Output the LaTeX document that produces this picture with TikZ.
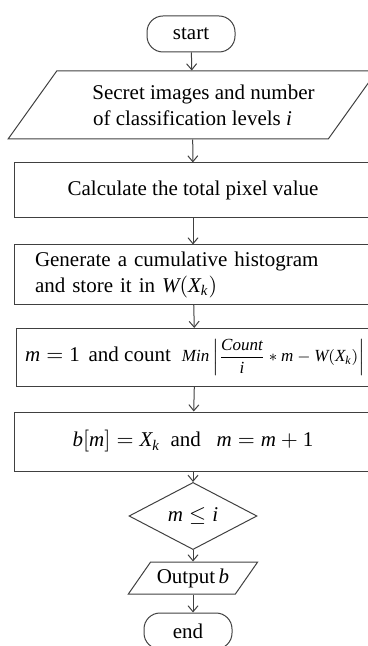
\documentclass[tikz,border=0pt]{standalone}
\usepackage{fontspec}
\setmainfont{Liberation Serif}
\usetikzlibrary{shapes.geometric,arrows.meta}

\tikzset{
  line/.style={draw=black!75,line width=0.5pt},
  flow/.style={line,-{Straight Barb[length=3pt,width=5pt]}},
  terminal/.style={line,rounded corners=8pt,minimum width=44pt,minimum height=18pt,inner sep=0pt},
  io/.style={line,trapezium,trapezium stretches=true,inner sep=0pt},
  process/.style={line,minimum width=179pt,inner sep=0pt},
  decision/.style={line,diamond,minimum width=64pt,minimum height=27.5pt,inner sep=0pt}
}

\begin{document}
\begin{tikzpicture}[x=0.5pt,y=-0.5pt,font=\fontsize{10.5}{13}\selectfont]
\useasboundingbox (0,0) rectangle (368,646);
\node[terminal] (start) at (191,34) {start};
\node[io,trapezium left angle=43,trapezium right angle=137,
  minimum width=184.5pt,minimum height=34pt,align=center] (input) at (192.5,105)
  {\hspace*{11pt}Secret images and number\\of classification levels $\mathit{i}$};
\node[process,minimum height=27.5pt] (total) at (193,190.5) {Calculate the total pixel value};
\node[process,minimum height=29.5pt,text width=158pt,align=left] (hist) at (193,274.5)
  {Generate a cumulative histogram\\and store it in $\mathit{W}(\mathit{X}_{\mathit{k}})$};
\node[process,minimum height=29pt] (count) at (195,357.5)
  {$\mathit{m}=\mathrm{1}$ \,and count \;{\fontsize{8.5}{10}\selectfont$\displaystyle\mathit{Min}\left|\frac{\mathit{Count}}{\mathit{i}}*\mathit{m}-\mathit{W}(\mathit{X}_{\mathit{k}})\right|$}};
\node[process,minimum height=29.5pt] (assign) at (193,441.5)
  {$\mathit{b}[\mathit{m}]=\mathit{X}_{\mathit{k}}$ \ and \ \ $\mathit{m}=\mathit{m}+\mathrm{1}$};
\node[decision] (test) at (193,516) {$\mathit{m}\le\mathit{i}$};
\node[io,trapezium left angle=45,trapezium right angle=135,
  minimum width=65pt,minimum height=16pt] (output) at (193,578) {Output$\,\mathit{b}$};
\node[terminal] (end) at (188,631) {end};
\draw[flow] (start) -- (input);
\draw[flow] (input) -- (total);
\draw[flow] (total) -- (hist);
\draw[flow] (hist) -- (count);
\draw[flow] (count) -- (assign);
\draw[flow] (assign) -- (test);
\draw[flow] (test) -- (output);
\draw[flow] (output.south) -- (output.south |- end.north);
\end{tikzpicture}
\end{document}
